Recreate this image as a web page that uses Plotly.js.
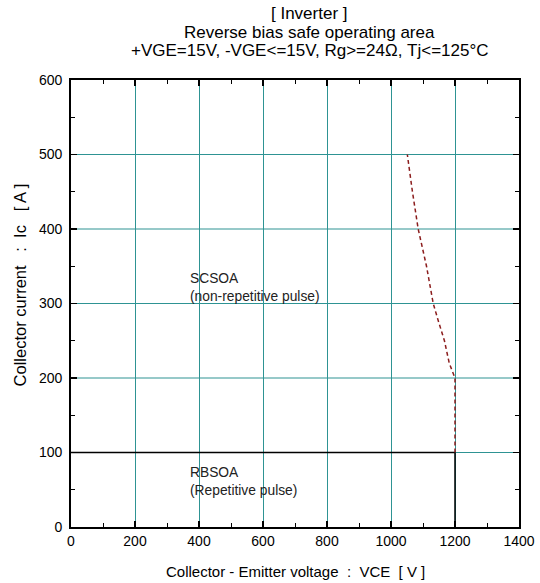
<!DOCTYPE html>
<html>
<head>
<meta charset="utf-8">
<script src="https://cdn.plot.ly/plotly-3.0.1.min.js"></script>
<style>html,body{margin:0;padding:0;background:#fff;}#chart{width:540px;height:583px;}</style>
</head>
<body>
<div id="chart"></div>
<script>
// RBSOA boundary (repetitive pulse)
const rbsoaVce = [0, 1200, 1200];
const rbsoaIc = [100, 100, 0];
// SCSOA boundary (non-repetitive pulse)
const scsoaVce = [1200, 1200, 1182, 1167, 1149, 1132, 1111, 1085, 1067, 1051];
const scsoaIc = [100, 200, 220, 250, 275, 300, 350, 400, 450, 500];
// Grid / tick values
const xGridVals = [200, 400, 600, 800, 1000, 1200];
const yGridVals = [100, 200, 300, 400, 500];
// Labels
const titleLines = ["[ Inverter ]", "Reverse bias safe operating area", "+VGE=15V, -VGE<=15V, Rg>=24Ω, Tj<=125°C"];
const xTitle = "Collector - Emitter voltage&nbsp;&nbsp;:&nbsp;&nbsp;VCE&nbsp;&nbsp;[ V ]";
const yTitle = "Collector current&nbsp;&nbsp;&nbsp;:&nbsp;&nbsp;Ic&nbsp;&nbsp;&nbsp;[ A ]";
const regionLabels = ["SCSOA<br>(non-repetitive pulse)", "RBSOA<br>(Repetitive pulse)"];
const regionX = [366, 366];
const regionY = [322, 61];

const font = "Arial, 'Liberation Sans', sans-serif";
const teal = "#2e9393";

const traces = [
  {x: rbsoaVce, y: rbsoaIc, mode: "lines", line: {color: "#000", width: 1.5}, hoverinfo: "skip"},
  {x: scsoaVce, y: scsoaIc, mode: "lines", line: {color: "#8b1c1c", width: 1.5, dash: "4px,3px"}, hoverinfo: "skip"}
];

const shapes = [];
xGridVals.forEach(v => shapes.push({type: "line", xref: "x", yref: "y", xsizemode: "pixel", xanchor: v,
  x0: 0.5, x1: 0.5, y0: 0, y1: 600, line: {color: teal, width: 1}, layer: "below"}));
yGridVals.forEach(v => shapes.push({type: "line", xref: "x", yref: "y", x0: 0, x1: 1400, y0: v, y1: v,
  line: {color: teal, width: 1}, layer: "below"}));

const titleShift = [67, 48, 30];
const annotations = titleLines.map((t, i) => ({
  x: 0.533, y: 1, xref: "paper", yref: "paper", text: t, showarrow: false,
  xanchor: "center", yanchor: "middle", yshift: titleShift[i],
  font: {size: 17, family: font, color: "#000"}
})).concat(regionLabels.map((t, i) => ({
  x: regionX[i], y: regionY[i], xref: "x", yref: "y", text: t, showarrow: false,
  xanchor: "left", yanchor: "middle", align: "left", font: {size: 13.8, family: font, color: "#222"}
}))).concat([
  {x: -0.114, y: 0.5425, xref: "paper", yref: "paper", text: yTitle, textangle: -90, showarrow: false,
   xanchor: "center", yanchor: "middle", font: {size: 16.5, family: font, color: "#000"}},
  {x: 0.5, y: 0, xref: "paper", yref: "paper", text: xTitle, showarrow: false,
   xanchor: "center", yanchor: "middle", yshift: -44, font: {size: 15, family: font, color: "#000"}}
]);

const layout = {
  width: 540, height: 583,
  margin: {l: 71, r: 21, t: 80, b: 56},
  paper_bgcolor: "#fff", plot_bgcolor: "#fff",
  showlegend: false,
  font: {family: font, size: 14, color: "#000"},
  xaxis: {
    range: [0, 1400], dtick: 200, tick0: 0,
    showline: true, linecolor: "#000", linewidth: 1.8, mirror: "ticks",
    ticks: "inside", ticklen: 6, tickwidth: 1.3, tickcolor: "#000",
    minor: {dtick: 100, ticks: "inside", ticklen: 4, tickwidth: 1, tickcolor: "#000", showgrid: false},
    showgrid: false, zeroline: false,
    tickfont: {size: 14, family: font}
  },
  yaxis: {
    range: [0, 600], dtick: 100, tick0: 0,
    showline: true, linecolor: "#000", linewidth: 1.8, mirror: "ticks",
    ticks: "inside", ticklen: 6, tickwidth: 1.3, tickcolor: "#000",
    minor: {dtick: 50, ticks: "inside", ticklen: 4, tickwidth: 1, tickcolor: "#000", showgrid: false},
    showgrid: false, zeroline: false, ticklabelstandoff: 4,
    tickfont: {size: 14, family: font}
  },
  shapes: shapes,
  annotations: annotations
};

Plotly.newPlot("chart", traces, layout, {displayModeBar: false, staticPlot: true});
</script>
</body>
</html>
